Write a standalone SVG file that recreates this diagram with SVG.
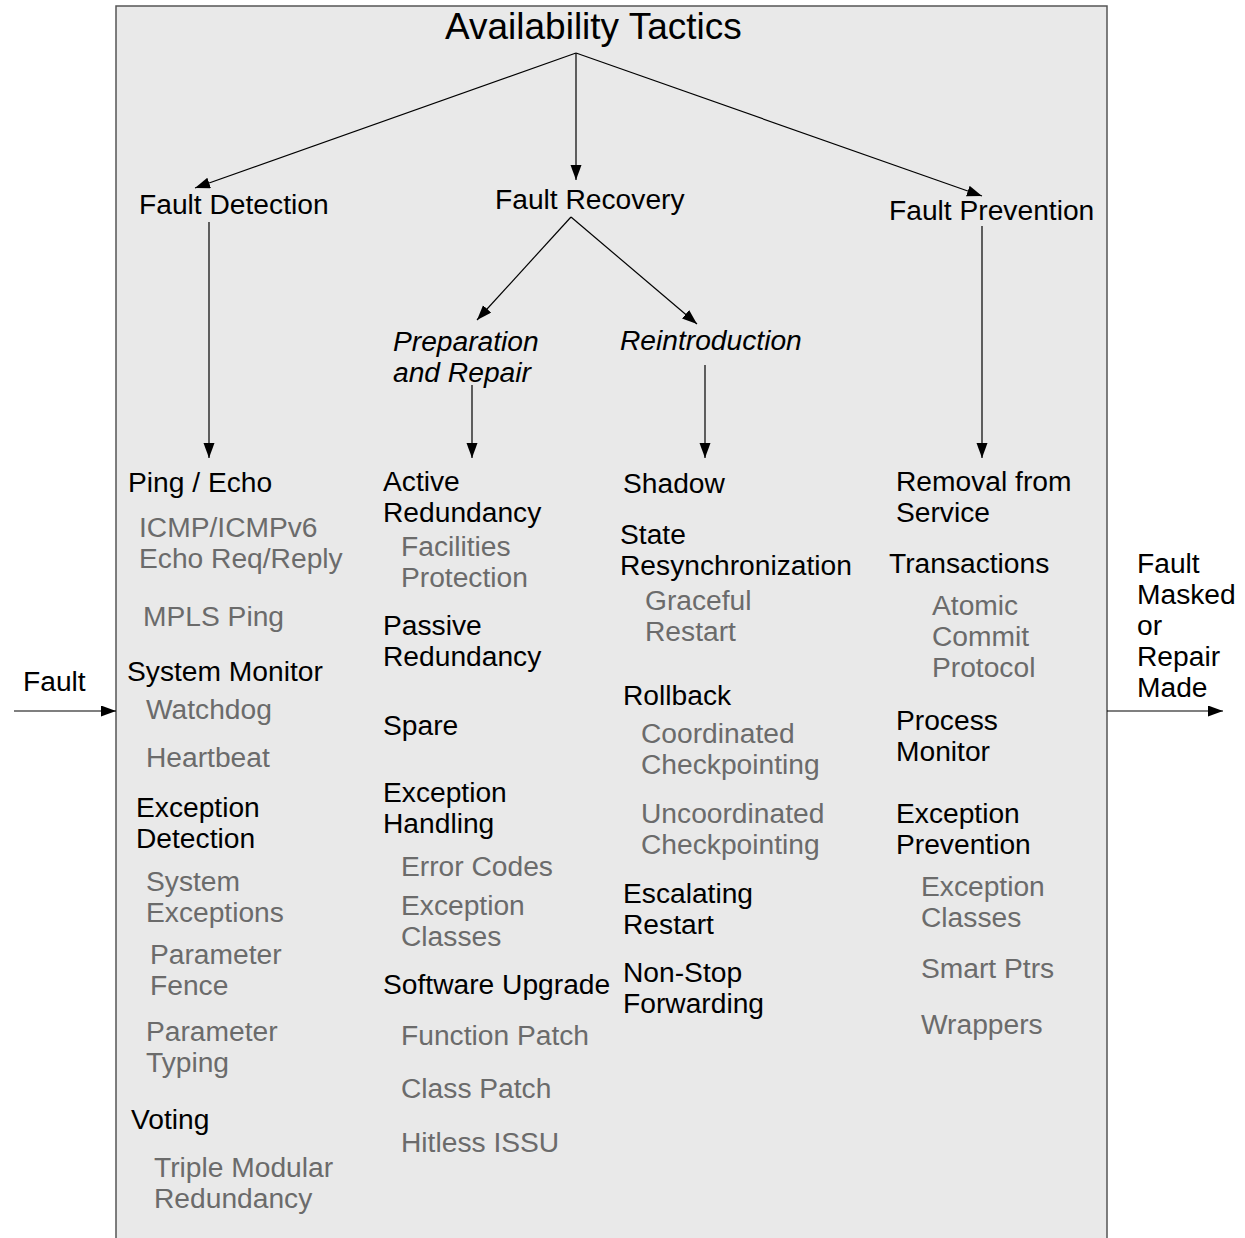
<svg xmlns="http://www.w3.org/2000/svg" width="1245" height="1238" viewBox="0 0 1245 1238">
<defs>
<marker id="ah" markerWidth="16" markerHeight="12" refX="15" refY="5.5" orient="auto" markerUnits="userSpaceOnUse">
<path d="M0,0 L15,5.5 L0,11 z" fill="#000"/>
</marker>
<style>
text{font-family:"Liberation Sans",Arial,sans-serif;font-size:28.2px;fill:#000}
.g{fill:#6b6b6b}
.i{font-style:italic}
.t{font-size:37px}
.c{stroke:#000;stroke-width:1.2;fill:none;marker-end:url(#ah)}
</style>
</defs>
<rect width="1245" height="1238" fill="#fff"/>
<rect id="frame" x="116" y="6" width="991" height="1240" fill="#e9e9e9" stroke="#555" stroke-width="1.5"/>
<g id="connectors">
<path class="c" d="M576,53 L195,188"/>
<path class="c" d="M576,53 L576,180"/>
<path class="c" d="M576,53 L982,196"/>
<path class="c" d="M209,222 L209,458"/>
<path class="c" d="M571,217 L477,320"/>
<path class="c" d="M571,217 L697,324"/>
<path class="c" d="M472,385 L472,458"/>
<path class="c" d="M705,365 L705,458"/>
<path class="c" d="M982,226 L982,458"/>
<path class="c" d="M14,711 L116,711"/>
<path class="c" d="M1107,711 L1223,711"/>
</g>
<g id="title"><text class="t" x="445" y="39">Availability Tactics</text></g>
<g id="fault-in"><text x="23" y="691">Fault</text></g>
<g id="fault-out"><text x="1137" y="573">Fault</text><text x="1137" y="604">Masked</text><text x="1137" y="635">or</text><text x="1137" y="666">Repair</text><text x="1137" y="697">Made</text></g>
<g id="fault-detection"><text x="139" y="214">Fault Detection</text></g>
<g id="fault-recovery"><text x="495" y="209">Fault Recovery</text></g>
<g id="fault-prevention"><text x="889" y="220">Fault Prevention</text></g>
<g id="prep-repair"><text class="i" x="393" y="351">Preparation</text><text class="i" x="393" y="382">and Repair</text></g>
<g id="reintroduction"><text class="i" x="620" y="350">Reintroduction</text></g>
<g id="detection-list">
<text x="128" y="492">Ping / Echo</text>
<text class="g" x="139" y="537">ICMP/ICMPv6</text>
<text class="g" x="139" y="568">Echo Req/Reply</text>
<text class="g" x="143" y="626">MPLS Ping</text>
<text x="127" y="681">System Monitor</text>
<text class="g" x="146" y="719">Watchdog</text>
<text class="g" x="146" y="767">Heartbeat</text>
<text x="136" y="817">Exception</text>
<text x="136" y="848">Detection</text>
<text class="g" x="146" y="891">System</text>
<text class="g" x="146" y="922">Exceptions</text>
<text class="g" x="150" y="964">Parameter</text>
<text class="g" x="150" y="995">Fence</text>
<text class="g" x="146" y="1041">Parameter</text>
<text class="g" x="146" y="1072">Typing</text>
<text x="131" y="1129">Voting</text>
<text class="g" x="154" y="1177">Triple Modular</text>
<text class="g" x="154" y="1208">Redundancy</text>
</g>
<g id="prep-list">
<text x="383" y="491">Active</text>
<text x="383" y="522">Redundancy</text>
<text class="g" x="401" y="556">Facilities</text>
<text class="g" x="401" y="587">Protection</text>
<text x="383" y="635">Passive</text>
<text x="383" y="666">Redundancy</text>
<text x="383" y="735">Spare</text>
<text x="383" y="802">Exception</text>
<text x="383" y="833">Handling</text>
<text class="g" x="401" y="876">Error Codes</text>
<text class="g" x="401" y="915">Exception</text>
<text class="g" x="401" y="946">Classes</text>
<text x="383" y="994">Software Upgrade</text>
<text class="g" x="401" y="1045">Function Patch</text>
<text class="g" x="401" y="1098">Class Patch</text>
<text class="g" x="401" y="1152">Hitless ISSU</text>
</g>
<g id="reintro-list">
<text x="623" y="493">Shadow</text>
<text x="620" y="544">State</text>
<text x="620" y="575">Resynchronization</text>
<text class="g" x="645" y="610">Graceful</text>
<text class="g" x="645" y="641">Restart</text>
<text x="623" y="705">Rollback</text>
<text class="g" x="641" y="743">Coordinated</text>
<text class="g" x="641" y="774">Checkpointing</text>
<text class="g" x="641" y="823">Uncoordinated</text>
<text class="g" x="641" y="854">Checkpointing</text>
<text x="623" y="903">Escalating</text>
<text x="623" y="934">Restart</text>
<text x="623" y="982">Non-Stop</text>
<text x="623" y="1013">Forwarding</text>
</g>
<g id="prevention-list">
<text x="896" y="491">Removal from</text>
<text x="896" y="522">Service</text>
<text x="889" y="573">Transactions</text>
<text class="g" x="932" y="615">Atomic</text>
<text class="g" x="932" y="646">Commit</text>
<text class="g" x="932" y="677">Protocol</text>
<text x="896" y="730">Process</text>
<text x="896" y="761">Monitor</text>
<text x="896" y="823">Exception</text>
<text x="896" y="854">Prevention</text>
<text class="g" x="921" y="896">Exception</text>
<text class="g" x="921" y="927">Classes</text>
<text class="g" x="921" y="978">Smart Ptrs</text>
<text class="g" x="921" y="1034">Wrappers</text>
</g>
</svg>
